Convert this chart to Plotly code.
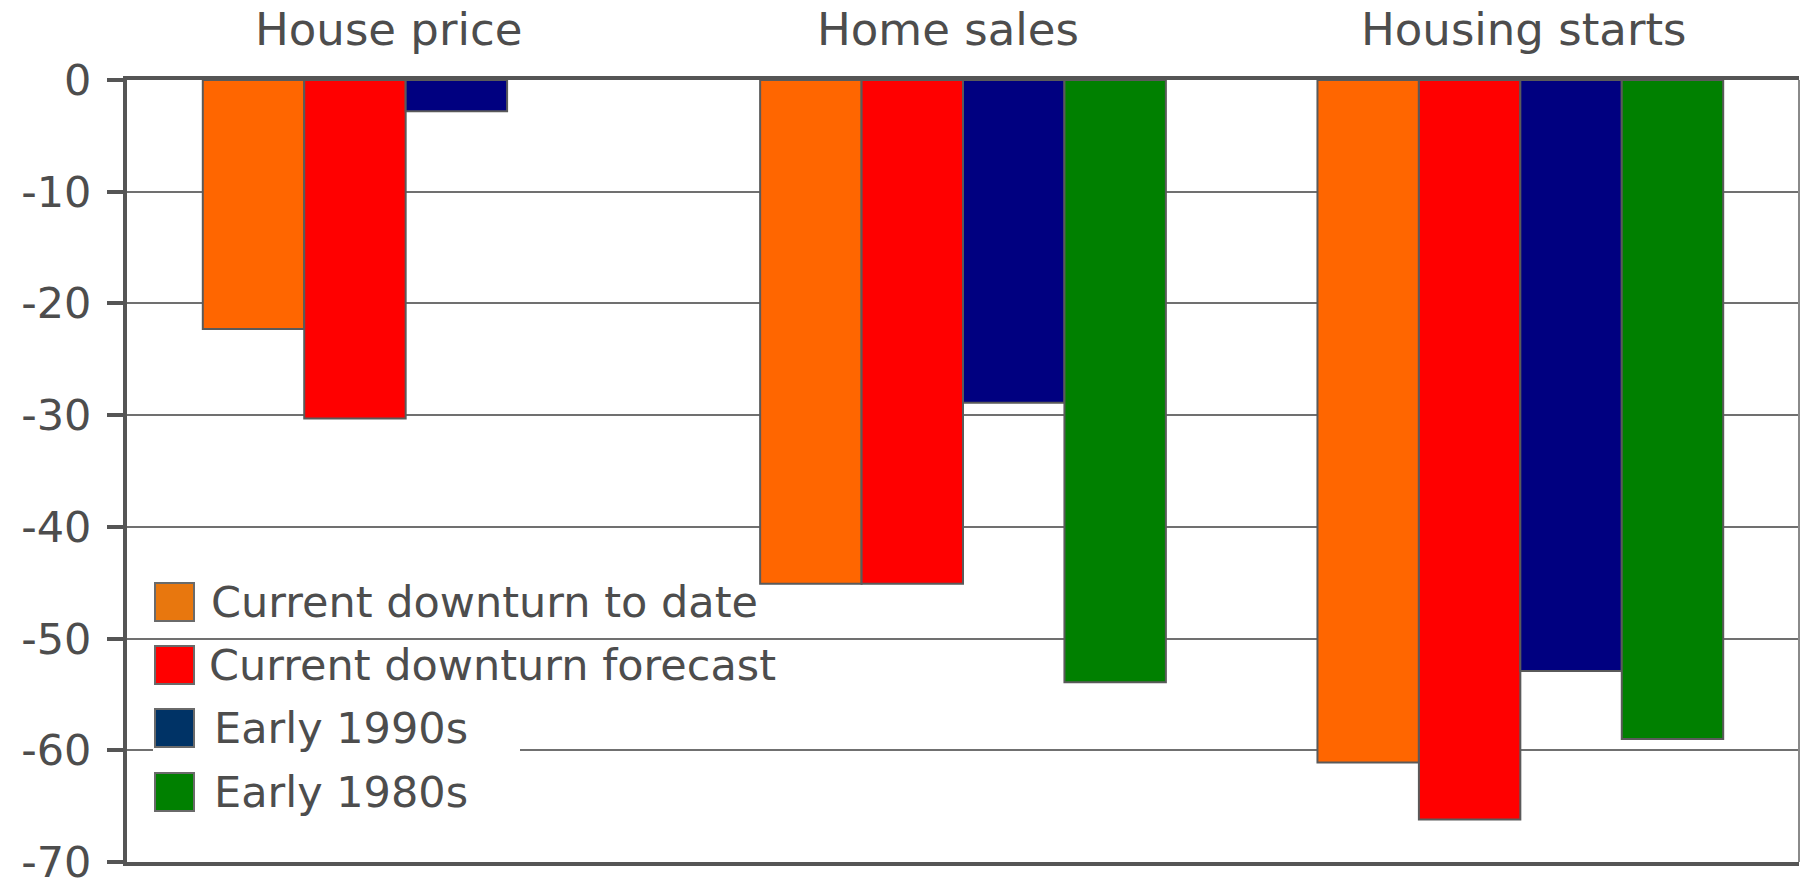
import plotly.graph_objects as go

categories = ["House price", "Home sales", "Housing starts"]
series_names = ["Current downturn to date", "Current downturn forecast", "Early 1990s", "Early 1980s"]
current_to_date = [-22.3, -45.1, -61.1]
current_forecast = [-30.3, -45.1, -66.2]
early_1990s = [-2.8, -28.9, -52.9]
early_1980s = [None, -53.9, -59.0]
bar_colors = ["#FF6600", "#FF0000", "#000080", "#008000"]
legend_colors = ["#E8770E", "#FF0000", "#003366", "#008000"]
y_ticks = [0, -10, -20, -30, -40, -50, -60, -70]

W, H = 1800, 887
L, R, T, B = 127, 1799, 80, 862
FONT = "DejaVu Sans"
TXT = "#4d4d4d"

fig = go.Figure()
for name, vals, col in zip(series_names,
                           [current_to_date, current_forecast, early_1990s, early_1980s],
                           bar_colors):
    fig.add_trace(go.Bar(x=categories, y=vals, name=name,
                         marker=dict(color=col, line=dict(color="#5a5a5a", width=2)),
                         showlegend=False))

def px(X):
    return (X - L) / (R - L)

def py(Y):
    return (B - Y) / (B - T)

shapes = []
shapes.append(dict(type="line", xref="paper", yref="paper", x0=1, x1=1, y0=0, y1=1,
                   line=dict(color="#8a8a8a", width=2), layer="above"))
shapes.append(dict(type="rect", xref="paper", yref="paper", x0=px(153), x1=px(520), y0=py(833), y1=py(700),
                   fillcolor="white", line=dict(width=0), layer="above"))
annotations = []
centers = [602, 665, 728, 792]
text_x = [209, 207, 212, 212]
for name, col, cy, tx in zip(series_names, legend_colors, centers, text_x):
    shapes.append(dict(type="rect", xref="paper", yref="paper", x0=px(155), x1=px(194),
                       y0=py(cy + 19), y1=py(cy - 19), fillcolor=col,
                       line=dict(color="#6a6a6a", width=2), layer="above"))
    annotations.append(dict(xref="paper", yref="paper", x=px(tx), y=py(cy), text=name, showarrow=False,
                            xanchor="left", yanchor="middle", font=dict(family=FONT, size=43, color=TXT)))

# category labels above the plot
cat_shift = [-17, -15, 3]
for cat, sh in zip(categories, cat_shift):
    annotations.append(dict(xref="x", yref="paper", x=cat, y=1, yshift=51, xshift=sh, text=cat,
                            showarrow=False, xanchor="center", yanchor="middle",
                            font=dict(family=FONT, size=45, color=TXT)))

fig.update_layout(
    width=W, height=H,
    margin=dict(l=L, r=W - R, t=T, b=H - B),
    paper_bgcolor="white", plot_bgcolor="white",
    barmode="group", bargap=0.272, bargroupgap=0,
    font=dict(family=FONT, size=44, color=TXT),
    shapes=shapes, annotations=annotations,
    xaxis=dict(side="top", showline=True, linewidth=4, linecolor="#555555", mirror=True,
               showgrid=False, ticks="", showticklabels=False, automargin=False),
    yaxis=dict(range=[-70, 0], tickvals=y_ticks, ticktext=[str(v) for v in y_ticks],
               showgrid=True, gridcolor="#707070", gridwidth=2,
               zeroline=False, showline=True, linewidth=4, linecolor="#555555",
               ticks="outside", ticklen=16, tickwidth=4, tickcolor="#555555",
               tickfont=dict(size=43, color=TXT), ticklabelstandoff=7,
               ticklabeloverflow="allow", automargin=False),
)

fig.write_html("out.html")
